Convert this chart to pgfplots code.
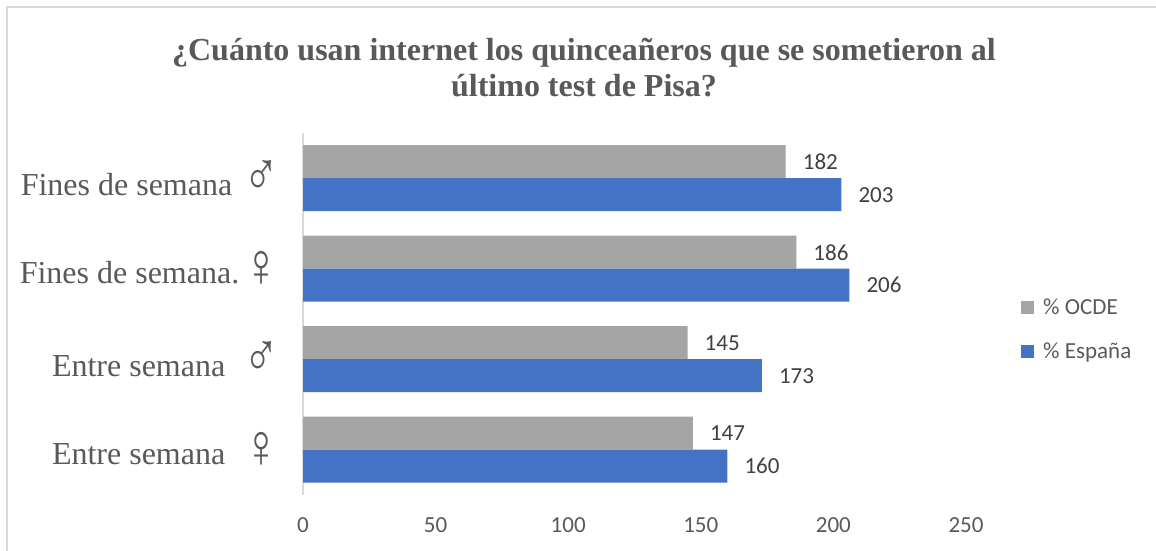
\documentclass[border=0pt]{standalone}
\usepackage{pgfplots}
\pgfplotsset{compat=1.18}
\usepackage{fontspec}
\setmainfont{Liberation Serif}
\newfontfamily\calibri{Carlito}
\definecolor{ocde}{HTML}{A5A5A5}
\definecolor{esp}{HTML}{4472C4}
\definecolor{txt}{HTML}{595959}
\definecolor{lbl}{HTML}{404040}
\definecolor{frame}{HTML}{D9D9D9}
\newcommand{\male}{\scalebox{1.5}[1.95]{♂}}
\newcommand{\female}{\raisebox{-0.1em}{\scalebox{1.5}[1.95]{♀}}}
\begin{document}
\begin{tikzpicture}
\useasboundingbox (0pt,0pt) rectangle (1156pt,551pt);
\draw[frame, line width=2pt] (7pt,0pt) -- (7pt,544pt) -- (1156pt,544pt);
\node[font=\bfseries\fontsize{32}{36}\selectfont, text=txt, align=center] at (584pt,483pt)
  {¿Cuánto usan internet los quinceañeros que se sometieron al\\último test de Pisa?};
\begin{axis}[at={(303pt,56pt)}, anchor=south west, scale only axis,
  width=663pt, height=362pt,
  xmin=0, xmax=250, ymin=-0.5, ymax=3.5,
  axis y line=left, axis x line=bottom,
  x axis line style={draw=none,-},
  y axis line style={draw=frame, line width=1.5pt,-},
  major tick length=0pt,
  xtick={0,50,...,250},
  ytick={0,1,2,3},
  yticklabels={{Entre semana\hspace{18.5pt}\female},{Entre semana\hspace{18.5pt}\male},{Fines de semana.\hspace{4.5pt}\female},{Fines de semana\hspace{11.5pt}\male}},
  /pgf/number format/assume math mode=true,
  xticklabel style={font=\calibri\fontsize{23}{23}\selectfont, text=txt, inner sep=0pt, yshift=-22pt},
  yticklabel style={font=\fontsize{32}{32}\selectfont, text=txt, anchor=east, inner sep=0pt, xshift=-23pt},
  point meta=x,
  nodes near coords,
  nodes near coords style={font=\calibri\fontsize{23}{23}\selectfont, text=lbl, anchor=west, inner sep=0pt, xshift=17pt},
  legend style={draw=none, fill=none, at={(axis description cs:1.083,0.457)}, anchor=west,
    font=\calibri\fontsize{23}{23}\selectfont, text=txt, row sep=27pt, inner sep=0pt,
    nodes={inner xsep=7pt, inner ysep=0pt},
    /tikz/every odd column/.append style={column sep=2pt}},
  legend cell align=left,
  legend image code/.code={\fill[#1] (0pt,-6.5pt) rectangle (13pt,6.5pt);},
  clip=false,
]
\addplot[xbar, bar width=33pt, bar shift=16.5pt, fill=ocde, draw=none,
  every node near coord/.append style={yshift=16.5pt}] coordinates {(147,0) (145,1) (186,2) (182,3)};
\addplot[xbar, bar width=33pt, bar shift=-16.5pt, fill=esp, draw=none,
  every node near coord/.append style={yshift=-16.5pt}] coordinates {(160,0) (173,1) (206,2) (203,3)};
\legend{\% OCDE, \% España}
\end{axis}
\end{tikzpicture}
\end{document}
